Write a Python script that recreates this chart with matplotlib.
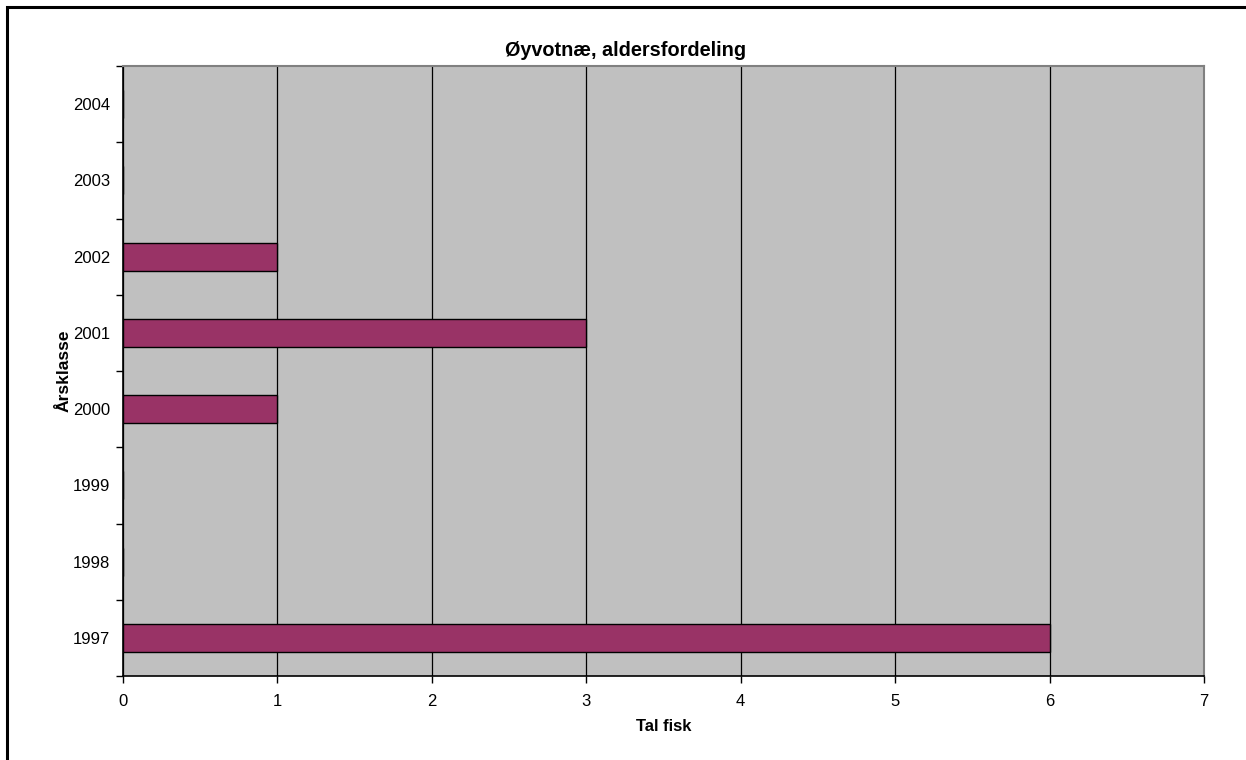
import matplotlib
matplotlib.use("Agg")
import matplotlib.pyplot as plt
from matplotlib.patches import Rectangle
import numpy as np

plt.rcParams['font.family'] = ['Liberation Sans', 'DejaVu Sans']

years = ["1997", "1998", "1999", "2000", "2001", "2002", "2003", "2004"]
counts = [6, 0, 0, 1, 3, 1, 0, 0]
x_ticks = [0, 1, 2, 3, 4, 5, 6, 7]

fig = plt.figure(figsize=(12.46, 7.6), dpi=100)
W, H = 1246, 760

# outer chart frame
fig.patches.append(Rectangle((7 / W, -0.05), 1.2, (760 - 7) / H + 0.05,
                             transform=fig.transFigure, fill=False,
                             edgecolor='black', linewidth=2.2, zorder=10))

ax = fig.add_axes([123 / W, (H - 676) / H, (1204 - 123) / W, (676 - 66) / H])
ax.set_facecolor('#C0C0C0')

pos = np.arange(len(years))
ax.barh(pos, counts, height=0.37, color='#993366', edgecolor='black',
        linewidth=1.0, zorder=3)

ax.set_xlim(0, 7)
ax.set_ylim(-0.5, len(years) - 0.5)
ax.set_xticks(x_ticks)
ax.set_xticklabels([str(t) for t in x_ticks], fontsize=12)
ax.xaxis.grid(True, color='black', linewidth=0.9, zorder=1)
ax.set_axisbelow(True)

# category labels centred, tick marks on category boundaries
ax.set_yticks(pos)
ax.set_yticklabels(years, fontsize=12)
ax.tick_params(axis='y', which='major', length=0, pad=9)
ax.set_yticks(np.arange(-0.5, len(years)), minor=True)
ax.tick_params(axis='y', which='minor', length=5, width=1, direction='out')
ax.tick_params(axis='x', length=5, width=1, direction='out', pad=8)

for s in ['left', 'bottom']:
    ax.spines[s].set_color('black')
    ax.spines[s].set_linewidth(1.2)
for s in ['top', 'right']:
    ax.spines[s].set_color('#808080')
    ax.spines[s].set_linewidth(1.5)

ax.set_xlabel('Tal fisk', fontsize=12, fontweight='bold', labelpad=7)
ax.set_ylabel('Årsklasse', fontsize=12.5, fontweight='bold', labelpad=1)
fig.text(626 / W, 1 - 51 / H, 'Øyvotnæ, aldersfordeling', ha='center',
         va='center', fontsize=14.3, fontweight='bold')

fig.savefig('out.png', dpi=100, facecolor='white')
